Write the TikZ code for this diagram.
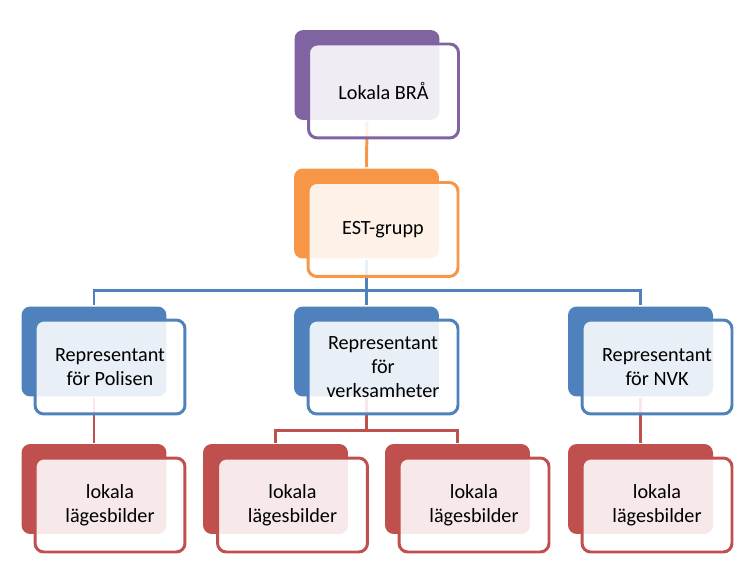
\documentclass[tikz,border=0pt]{standalone}
\usepackage{fontspec}
\setmainfont{Carlito}
\usepackage{tikz}

\begin{document}
\begin{tikzpicture}[x=0.02cm,y=-0.02cm,line width=1.7pt,
    	 back/.style={rounded corners=5pt,minimum width=2.9cm,minimum height=1.8cm,inner sep=0pt},
    	 front/.style={rounded corners=5pt,draw,fill=white,fill opacity=0.88,text opacity=1,
    	   minimum width=3cm,minimum height=1.88cm,inner sep=0pt,align=center,
    	   font=\fontsize{11.5}{13.5}\selectfont},
    	 purple back/.style={back,fill=officepurple},
    	 purple front/.style={front,draw=officepurple},
    	 orange back/.style={back,fill=officeorange},
    	 orange front/.style={front,draw=officeorange},
    	 blue back/.style={back,fill=officeblue},
    	 blue front/.style={front,draw=officeblue},
    	 red back/.style={back,fill=officered},
    	 red front/.style={front,draw=officered}]

	\definecolor{officepurple}{RGB}{128,100,162}
	\definecolor{officeorange}{RGB}{247,150,70}
	\definecolor{officeblue}{RGB}{79,129,189}
	\definecolor{officered}{RGB}{192,80,77}

	\useasboundingbox (0,0) rectangle (756,570);

	% back plates
	\fill (367,75)     node[purple back] (bra) {};
	\fill (366.5,213.5) node[orange back] (est) {};
	\fill (94,351.5)   node[blue back]   (pol) {};
	\fill (366.5,351.5) node[blue back]  (ver) {};
	\fill (640.5,351.5) node[blue back]  (nvk) {};
	\fill (94,489)     node[red back]    (lok1) {};
	\fill (275.5,489)  node[red back]    (lok2) {};
	\fill (457.5,489)  node[red back]    (lok3) {};
	\fill (640.5,489)  node[red back]    (lok4) {};

	% connectors
	\draw[officeorange] (bra.south) -- (est.north);
	\draw[officeblue] (est.south) -- ++(0,30.5) coordinate (bus)
	    (bus) -| (pol.north)
	    (bus) -| (nvk.north)
	    (bus) -- (ver.north);
	\draw[officered] (pol.south) -- (lok1.north);
	\draw[officered] (nvk.south) -- (lok4.north);
	\draw[officered] (ver.south) -- ++(0,33) coordinate (split)
	    (split) -| (lok2.north)
	    (split) -| (lok3.north);

	% front cards
	\draw (383.5,91)  node[purple front] (bra card) {Lokala BRÅ};
	\draw (383,229.5) node[orange front] (est card) {EST-grupp};
	\draw (110,367)   node[blue front]   (pol card) {Representant\\för Polisen};
	\draw (383,367)   node[blue front]   (ver card) {Representant\\för\\verksamheter};
	\draw (657,367)   node[blue front]   (nvk card) {Representant\\för NVK};
	\draw (110,505)   node[red front]    (lok1 card) {lokala\\lägesbilder};
	\draw (292.5,505) node[red front]    (lok2 card) {lokala\\lägesbilder};
	\draw (474,505)   node[red front]    (lok3 card) {lokala\\lägesbilder};
	\draw (657,505)   node[red front]    (lok4 card) {lokala\\lägesbilder};

\end{tikzpicture}
\end{document}
